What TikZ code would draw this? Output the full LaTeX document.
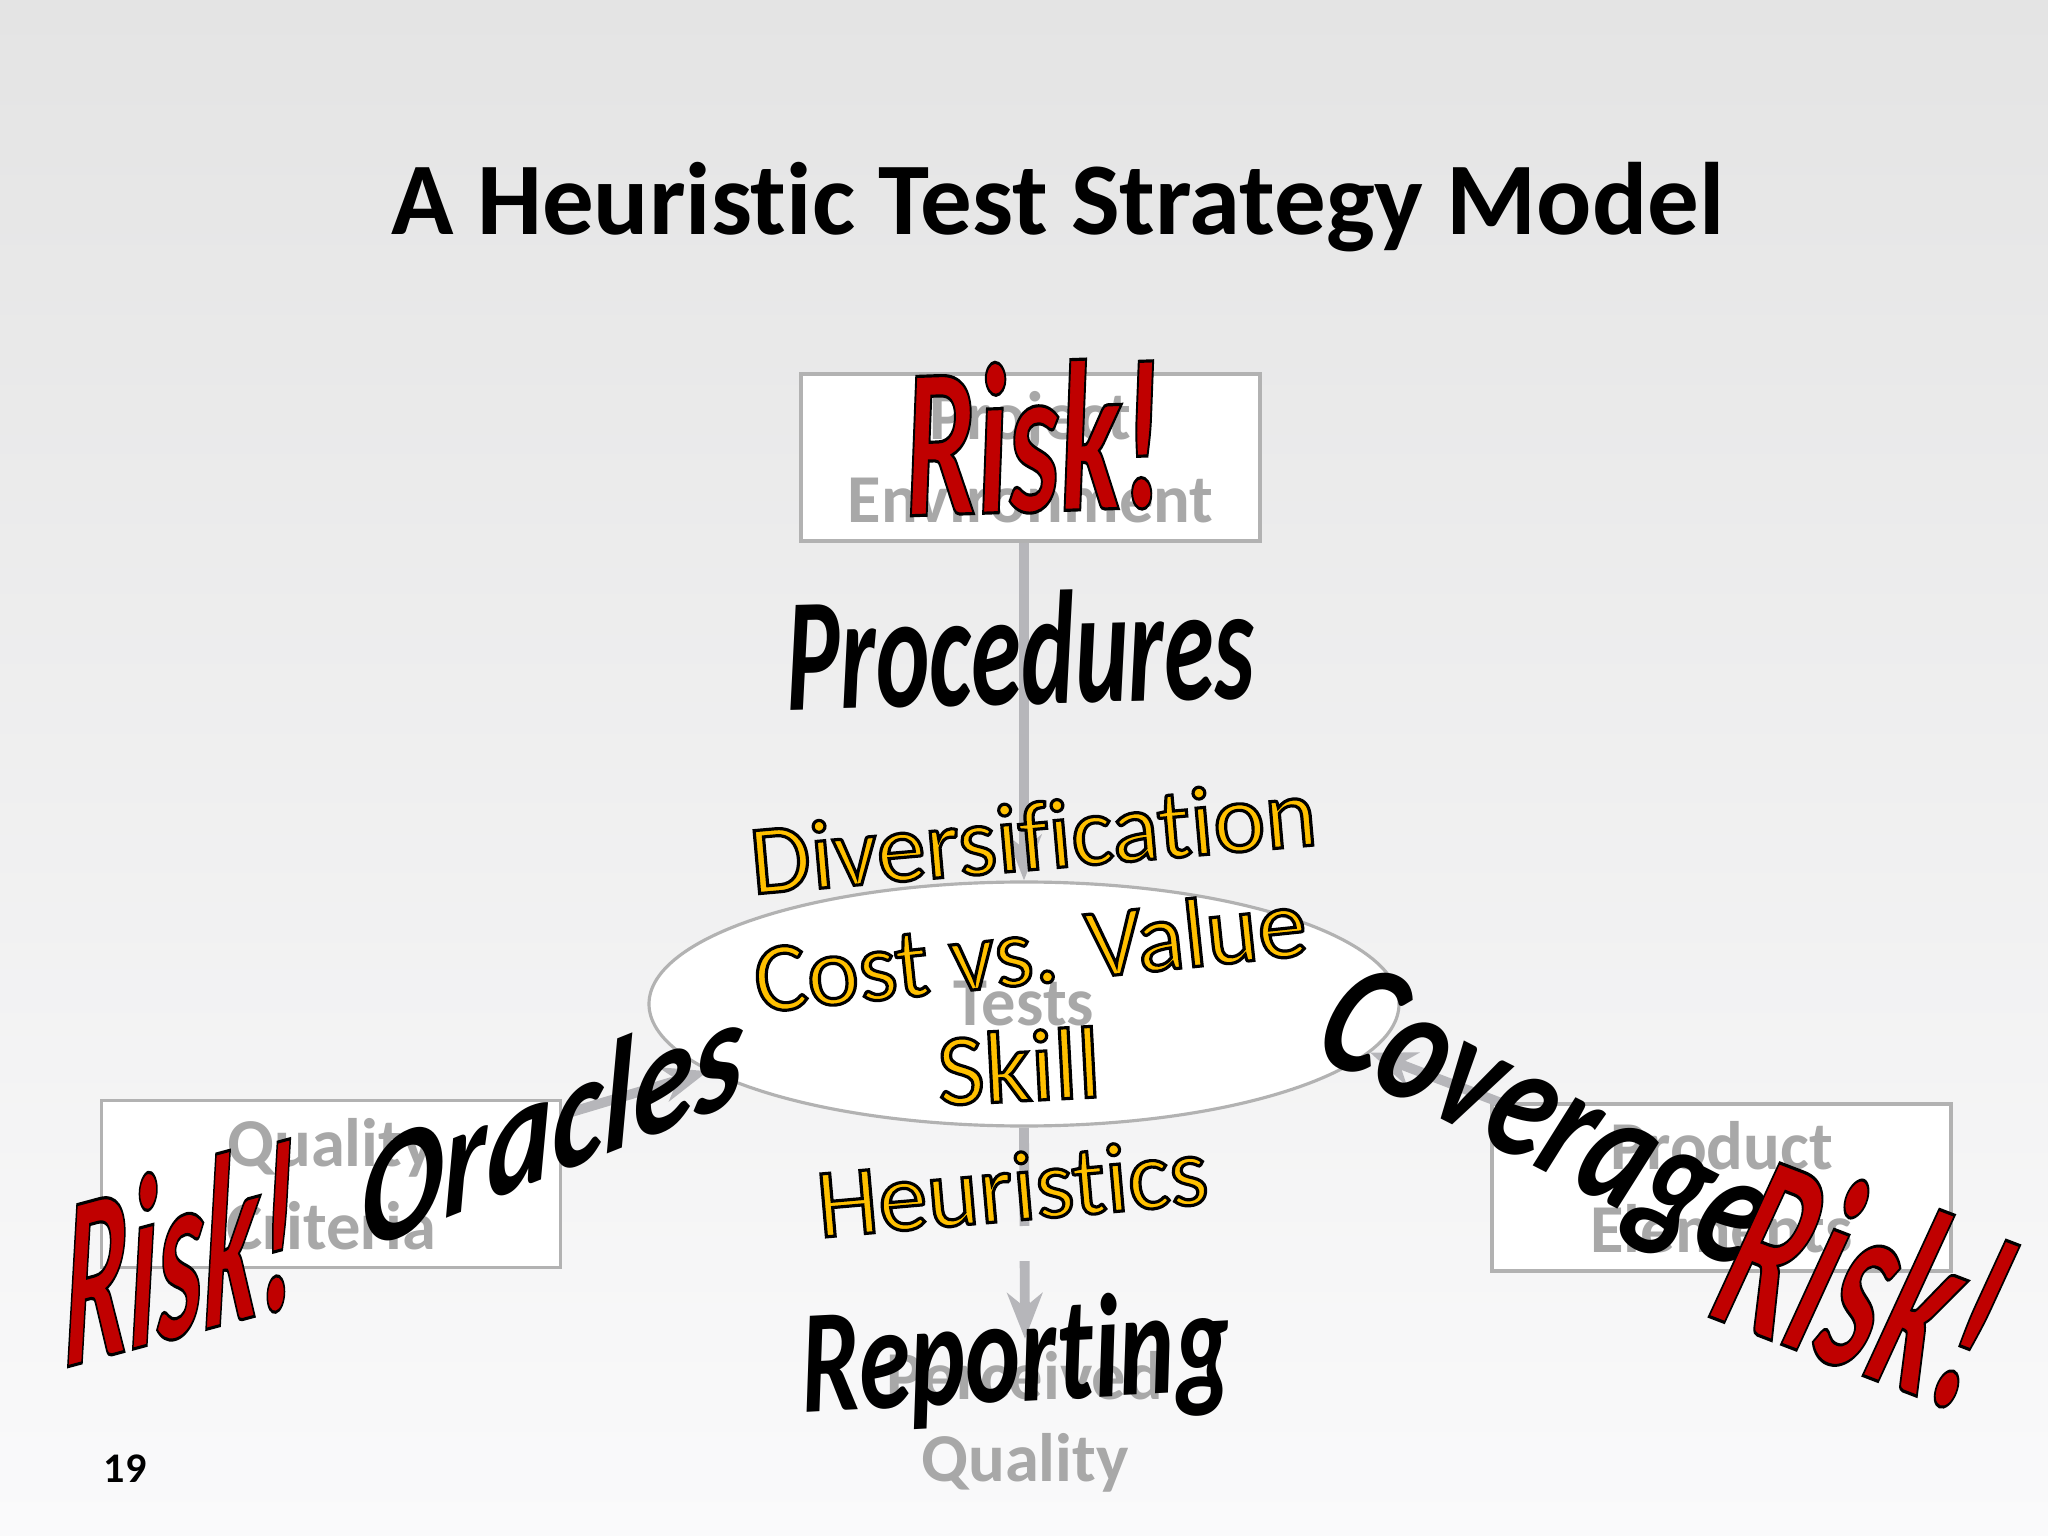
\documentclass[tikz,border=0pt]{standalone}
\usepackage{fontspec}
\setmainfont{Carlito}[Ligatures=NoCommon,Contextuals=NoAlternate]
\usetikzlibrary{arrows.meta,shapes.geometric}

\definecolor{bgtop}{HTML}{E4E4E4}
\definecolor{bgbot}{HTML}{FAFAFB}
\definecolor{riskred}{HTML}{C00000}
\definecolor{gold}{HTML}{FFC000}
\definecolor{lblgray}{HTML}{A8A8A8}
\definecolor{boxgray}{HTML}{B2B2B2}
\definecolor{linegray}{HTML}{B6B6BA}

% black outline round filled glyphs
\newcommand{\outl}[1]{\special{pdf:literal direct 0 0 0 RG 2 Tr 0.9 w}#1\special{pdf:literal direct 0 Tr}}
\newcommand{\fs}[1]{\fontsize{#1}{#1}\selectfont}

\begin{document}
\begin{tikzpicture}
	\tikzstyle{box} = [rectangle,draw=boxgray,line width=0.9pt,fill=white,minimum width=4.59cm,minimum height=1.67cm]
	\tikzstyle{lbl} = [text=lblgray,font=\fontsize{19.5}{23.5}\selectfont\bfseries,align=center]
	\tikzstyle{conn} = [draw=linegray,line width=2.8pt,-{Stealth[length=13pt,width=10pt,inset=4pt]}]
	\tikzstyle{heavy} = [inner sep=0pt,text=black]
	\tikzstyle{gold} = [inner sep=0pt,text=gold]
	\tikzstyle{risk} = [inner sep=0pt,text=riskred]

	\shade[top color=bgtop,bottom color=bgbot] (0,0) rectangle (20.48,-15.36);
	\useasboundingbox (0,0) rectangle (20.48,-15.36);

	\node[font=\fontsize{29.3}{35}\selectfont\bfseries,anchor=base] (title) at (10.58,-2.35) {A Heuristic Test Strategy Model};
	\node[font=\fontsize{12}{14}\selectfont\bfseries] (page) at (1.25,-14.69) {19};

	% the model
	\node[box,lbl] (pe) at (10.305,-4.575) {Project\\Environment};
	\node[ellipse,draw=boxgray,line width=0.9pt,fill=white,minimum width=7.5cm,minimum height=2.44cm,inner sep=0pt,lbl] (tests) at (10.24,-10.04) {Tests};
	\node[box,lbl] (qc) at (3.31,-11.84) {Quality\\Criteria};
	\node[box,lbl] (prod) at (17.215,-11.875) {Product\\Elements};
	\node[lbl] (pq) at (10.25,-14.22) {Perceived\\Quality};

	\draw[conn] (tests.north |- pe.south) -- (tests.north);
	\draw[conn] (qc) -- (tests.192);
	\draw[conn] (prod) -- (tests.-8);
	\draw[conn,dash pattern=on 28pt off 10pt on 100pt off 1pt] (tests.south) -- (pq.north);

	% word art
	\node[heavy,font=\fs{46}\bfseries\itshape,rotate=1.5,xscale=.63] (proc) at (10.20,-6.48) {Procedures};
	\node[gold,font=\fs{28},rotate=5] (div) at (10.33,-8.36) {\outl{Diversification}};
	\node[gold,font=\fs{28},rotate=6] (cost) at (10.30,-9.50) {\outl{Cost vs. Value}};
	\node[gold,font=\fs{29},rotate=3] (skill) at (10.19,-10.66) {\outl{Skill}};
	\node[gold,font=\fs{28},rotate=5] (heur) at (10.12,-11.87) {\outl{Heuristics}};
	\node[heavy,font=\fs{42}\bfseries\itshape,rotate=3,xscale=.71] (rep) at (10.16,-13.62) {Reporting};
	\node[heavy,font=\fs{45}\bfseries\itshape,yslant=.4,xscale=.78] (orac) at (5.52,-11.21) {Oracles};
	\node[heavy,font=\fs{47}\bfseries\itshape,rotate=-27,xscale=.75] (cov) at (15.43,-11.26) {Coverage};
	\node[risk,font=\fs{61}\bfseries\itshape,rotate=2,xscale=.6] (riskP) at (10.33,-4.37) {\outl{Risk!}};
	\node[risk,font=\fs{70}\bfseries\itshape,yslant=.27,xscale=.47] (riskQ) at (1.80,-12.51) {\outl{Risk!}};
	\node[risk,font=\fs{74}\bfseries\itshape,rotate=-21,xscale=.53] (riskE) at (18.66,-12.80) {\outl{Risk!}};
\end{tikzpicture}
\end{document}
